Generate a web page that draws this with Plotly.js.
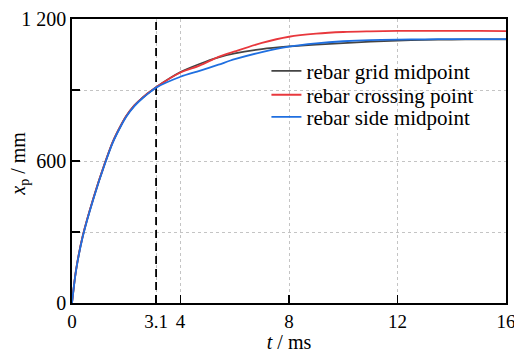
<!DOCTYPE html>
<html><head><meta charset="utf-8">
<script src="https://cdn.plot.ly/plotly-3.0.1.min.js"></script>
<style>html,body{margin:0;padding:0;background:#fff;font-family:'Liberation Serif',serif}</style>
</head><body><div id="chart" style="width:514px;height:353px"></div>
<script>
const seriesNames = ["rebar grid midpoint", "rebar crossing point", "rebar side midpoint"];
const seriesColors = ["#444444", "#e8383d", "#1f6fe0"];
const timeMs = [0, 0.15, 0.4, 0.8, 1.2, 1.5, 1.8, 2.0, 2.3, 2.6, 2.9, 3.1, 4, 4.7, 5.4, 6, 7, 8, 9, 10, 11, 12, 13, 14, 15, 16];
const gridMidpoint = [0, 140, 285, 447, 587, 680, 750, 790, 835, 868, 895, 912, 976, 1010, 1038, 1055, 1073, 1084, 1092, 1098, 1104, 1109, 1112, 1113, 1114, 1114];
const crossingPoint = [0, 140, 285, 447, 587, 680, 750, 790, 835, 868, 895, 912, 974, 1003, 1040, 1063, 1099, 1125, 1138, 1145, 1148, 1150, 1150, 1150, 1150, 1149];
const sideMidpoint = [0, 138, 282, 444, 584, 677, 747, 787, 832, 865, 893, 910, 956, 981, 1007, 1030, 1060, 1083, 1097, 1106, 1111, 1113, 1114, 1115, 1115, 1115];
const markerTime = 3.1;
const yRange = [0, 1200];
const xTickVals = [0, 3.1, 4, 8, 12, 16];
const xTickText = ["0", "3.1", "4", "8", "12", "16"];
const yTickVals = [0, 300, 600, 900, 1200];
const yTickText = ["0", " ", "600", " ", "1 200"];

const seriesValues = [gridMidpoint, crossingPoint, sideMidpoint];
const fontName = "Liberation Serif";
const legendIds = ["legend", "legend2", "legend3"];
const legendRowY = [0.816, 0.732, 0.654];

function draw() {
  const traces = [{
    x: [markerTime, markerTime], y: yRange, mode: "lines", showlegend: false, hoverinfo: "skip",
    line: {color: "#000", width: 1.8, dash: "8px,5px"}
  }];
  seriesNames.forEach((n, i) => traces.push({
    x: timeMs, y: seriesValues[i], name: n, mode: "lines", legend: legendIds[i],
    line: {color: seriesColors[i], width: 1.8, shape: "spline", smoothing: 0.8}
  }));
  const f = (s) => ({family: fontName, size: s, color: "#000"});
  const layout = {
    width: 514, height: 353,
    margin: {l: 72, r: 8, t: 19, b: 50},
    paper_bgcolor: "#fff", plot_bgcolor: "#fff",
    font: f(20),
    showlegend: true,
    xaxis: {
      range: [0, 16], tickmode: "array", tickvals: xTickVals, ticktext: xTickText,
      ticks: "inside", ticklen: 8, tickwidth: 1.8, tickcolor: "#000",
      showline: true, linecolor: "#000", linewidth: 1.8, mirror: true,
      showgrid: true, gridcolor: "#c4c4c4", gridwidth: 1, griddash: "dot",
      zeroline: false, tickfont: f(19), ticklabeloverflow: "allow",
      title: {text: "<i>t</i> / ms", font: f(20), standoff: 0}
    },
    yaxis: {
      range: yRange, tickmode: "array", tickvals: yTickVals, ticktext: yTickText,
      ticks: "inside", ticklen: 8, tickwidth: 1.8, tickcolor: "#000",
      showline: true, linecolor: "#000", linewidth: 1.8, mirror: true,
      showgrid: true, gridcolor: "#c4c4c4", gridwidth: 1, griddash: "dot",
      zeroline: false, tickfont: f(20), ticklabeloverflow: "allow"
    },
    annotations: [{
      text: "<i>x</i><sub>p</sub> / mm", xref: "paper", yref: "paper", x: -0.12, y: 0.49,
      xanchor: "center", yanchor: "middle", textangle: -90, showarrow: false, font: f(20)
    }]
  };
  legendIds.forEach((id, i) => {
    layout[id] = {x: 0.448, y: legendRowY[i], xanchor: "left", yanchor: "middle",
                  bgcolor: "rgba(255,255,255,0)", font: f(21), itemwidth: 30};
  });
  Plotly.newPlot("chart", traces, layout, {displayModeBar: false, staticPlot: true});
}
if (document.fonts && document.fonts.load) {
  document.fonts.load("20px 'Liberation Serif'").then(draw, draw);
} else { draw(); }
</script></body></html>
